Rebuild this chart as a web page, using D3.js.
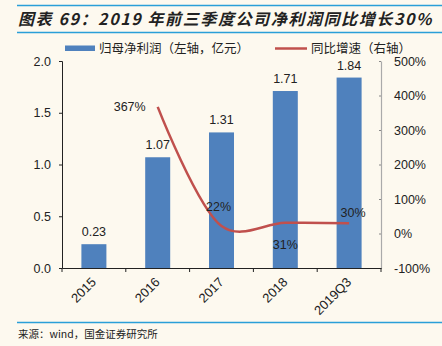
<!DOCTYPE html>
<html><head><meta charset="utf-8">
<script src="https://cdn.jsdelivr.net/npm/d3@7/dist/d3.min.js"></script>
<style>
html,body{margin:0;padding:0;background:#FDF9EF;}
svg{display:block;}
text{font-family:"Liberation Sans",Arial,sans-serif;fill:#222;}
.cjk{font-family:"Noto Sans CJK SC",sans-serif;}
</style></head>
<body>
<svg id="c" width="442" height="346"></svg>
<script>
const categories = ["2015","2016","2017","2018","2019Q3"];
const profit = [0.23,1.07,1.31,1.71,1.84];
const growth = [null,367,22,31,30];
const leftTicks = [0,0.5,1.0,1.5,2.0];
const rightTicks = [-100,0,100,200,300,400,500];
const title = "图表 69：2019 年前三季度公司净利润同比增长30%";
const legendBar = "归母净利润（左轴，亿元）";
const legendLine = "同比增速（右轴）";
const source = "来源：wind，国金证券研究所";

const svg = d3.select("#c");
const W=442,H=346;
svg.append("rect").attr("width",W).attr("height",H).attr("fill","#FDF9EF");

const blue="#2A9FD8";
svg.append("line").attr("x1",17).attr("x2",W).attr("y1",5.5).attr("y2",5.5).attr("stroke",blue).attr("stroke-width",1.5);
svg.append("line").attr("x1",17).attr("x2",W).attr("y1",32.5).attr("y2",32.5).attr("stroke",blue).attr("stroke-width",1.5);
svg.append("line").attr("x1",17).attr("x2",W).attr("y1",322.5).attr("y2",322.5).attr("stroke",blue).attr("stroke-width",1.5);

svg.append("text").attr("class","cjk").attr("x",18).attr("y",25)
  .attr("font-size",16).attr("font-weight","bold").attr("font-style","italic")
  .attr("letter-spacing",1.6).attr("fill","#111").text(title);
svg.append("text").attr("class","cjk").attr("x",18).attr("y",338)
  .attr("font-size",10.5).attr("fill","#333").text(source);

const x0=62,x1=381,yT=61,yB=268;
const x = d3.scaleBand().domain(categories).range([x0,x1]);
const yL = d3.scaleLinear().domain([0,2]).range([yB,yT]);
const yR = d3.scaleLinear().domain([-100,500]).range([yB,yT]);

// legend
svg.append("rect").attr("x",65).attr("y",45.5).attr("width",30).attr("height",5.5).attr("fill","#4F81BD");
svg.append("text").attr("class","cjk").attr("x",99).attr("y",53).attr("font-size",12.5).attr("fill","#333").text(legendBar);
svg.append("line").attr("x1",275).attr("x2",307).attr("y1",48.5).attr("y2",48.5).attr("stroke","#C0504D").attr("stroke-width",2.5);
svg.append("text").attr("class","cjk").attr("x",311).attr("y",53).attr("font-size",12.5).attr("fill","#333").text(legendLine);

// bars
const bw=25;
svg.append("g").selectAll("rect").data(profit).join("rect")
  .attr("x",(d,i)=>x(categories[i])+x.bandwidth()/2-bw/2)
  .attr("y",d=>yL(d)).attr("width",bw).attr("height",d=>yB-yL(d))
  .attr("fill","#4F81BD");
svg.append("g").selectAll("text").data(profit).join("text")
  .attr("x",(d,i)=>x(categories[i])+x.bandwidth()/2)
  .attr("y",d=>yL(d)-8).attr("text-anchor","middle").attr("font-size",12.5)
  .text(d=>d.toFixed(2));

// axes
const gL = svg.append("g").attr("transform",`translate(${x0},0)`)
  .call(d3.axisLeft(yL).tickValues(leftTicks).tickFormat(d3.format(".1f")).tickSize(3).tickPadding(8));
gL.select(".domain").attr("stroke","#222");
gL.selectAll(".tick line").attr("stroke","#222");
gL.selectAll("text").attr("font-size",12.5).attr("fill","#222").attr("font-family","Liberation Sans, Arial, sans-serif");

const gR = svg.append("g").attr("transform",`translate(${x1},0)`)
  .call(d3.axisRight(yR).tickValues(rightTicks).tickFormat(d=>d+"%").tickSize(0).tickPadding(13));
gR.select(".domain").attr("stroke","#aaa").attr("stroke-width",1.2);
gR.selectAll(".tick").append("line").attr("x1",-2).attr("x2",0).attr("stroke","#888");
gR.selectAll("text").attr("font-size",12.5).attr("fill","#222").attr("font-family","Liberation Sans, Arial, sans-serif");

const gX = svg.append("g").attr("transform",`translate(0,${yB})`)
  .call(d3.axisBottom(x).tickSize(0).tickFormat(""));
gX.select(".domain").attr("stroke","#222");
const bounds = categories.map(c=>x(c)).concat([x1]);
gX.selectAll(".bt").data(bounds).join("line").attr("class","bt")
  .attr("x1",d=>d).attr("x2",d=>d).attr("y1",0).attr("y2",4).attr("stroke","#222");
gX.selectAll(".xl").data(categories).join("text").attr("class","xl")
  .attr("transform",d=>`translate(${x(d)+x.bandwidth()/2+3},15) rotate(-45)`)
  .attr("text-anchor","end").attr("font-size",13).attr("fill","#222")
  .attr("font-family","Liberation Sans, Arial, sans-serif").text(d=>d);

// line
const pts = growth.map((g,i)=>g==null?null:[x(categories[i])+x.bandwidth()/2, yR(g)]).filter(p=>p);
svg.append("path").attr("d",d3.line().curve(d3.curveCatmullRom.alpha(0.25))(pts))
  .attr("fill","none").attr("stroke","#C0504D").attr("stroke-width",2.5);

const lblOff = [null,[-28,4],[-3,-15],[0,26],[4,-6]];
svg.append("g").selectAll("text").data(growth.map((g,i)=>({g,i})).filter(d=>d.g!=null)).join("text")
  .attr("x",d=>x(categories[d.i])+x.bandwidth()/2+lblOff[d.i][0])
  .attr("y",d=>yR(d.g)+lblOff[d.i][1]).attr("text-anchor","middle").attr("font-size",12.5)
  .text(d=>d.g+"%");
</script>
</body></html>
